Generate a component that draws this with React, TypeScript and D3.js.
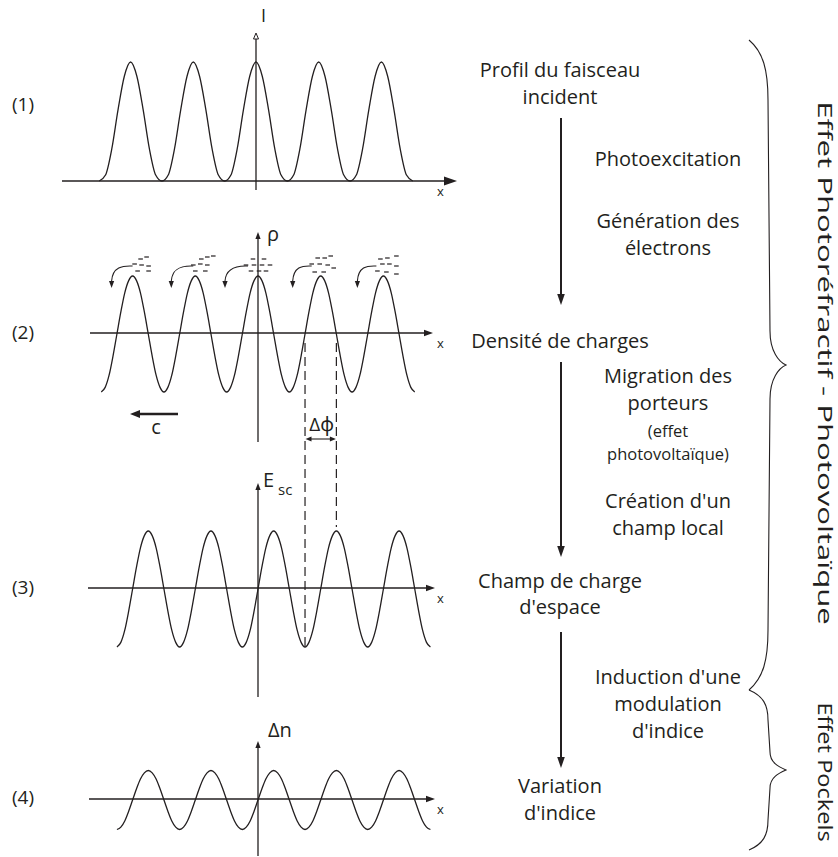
import React from "react";
import * as d3 from "d3";

const WIDTH = 838;
const HEIGHT = 857;

// ---------------- data ----------------
const panelTags = ["(1)", "(2)", "(3)", "(4)"];
const stageLabels = [
  ["Profil du faisceau", "incident"],
  ["Densité de charges"],
  ["Champ de charge", "d'espace"],
  ["Variation", "d'indice"],
];
const processLabels = [
  ["Photoexcitation"],
  ["Génération des", "électrons"],
  ["Migration des", "porteurs"],
  ["(effet", "photovoltaïque)"],
  ["Création d'un", "champ local"],
  ["Induction d'une", "modulation", "d'indice"],
];
const effectLabels = ["Effet Photoréfractif - Photovoltaïque", "Effet Pockels"];

// intensity profile: peaks (in grating periods from the I axis), half-peak profile
const intensityPeaks = [-2, -1, 0, 1, 2];
const intensityProfileOffsets = [0, 0.1, 0.2, 0.3, 0.4, 0.5];
const intensityProfileValues = [1, 0.88, 0.6, 0.27, 0.05, 0];

// sinusoidal curves: extrema positions (periods) and values
const rhoExtremaX = [-2.5, -2, -1.5, -1, -0.5, 0, 0.5, 1, 1.5, 2, 2.5];
const rhoExtremaY = [-1, 1, -1, 1, -1, 1, -1, 1, -1, 1, -1];
const escExtremaX = [-2.25, -1.75, -1.25, -0.75, -0.25, 0.25, 0.75, 1.25, 1.75, 2.25, 2.75];
const escExtremaY = [-1, 1, -1, 1, -1, 1, -1, 1, -1, 1, -1];
const dnExtremaX = [-2.25, -1.75, -1.25, -0.75, -0.25, 0.25, 0.75, 1.25, 1.75, 2.25, 2.75];
const dnExtremaY = [-0.5, 0.5, -0.5, 0.5, -0.5, 0.5, -0.5, 0.5, -0.5, 0.5, -0.5];
// quarter-wave shape (offset from extremum, relative value)
const waveShapeOffsets = [0, 0.0625, 0.125, 0.1875, 0.25];
const waveShapeValues = [1, 0.92, 0.71, 0.38, 0];

// phase shift Δφ bounded by two ρ zero crossings (periods)
const deltaPhiBounds = [0.75, 1.25];

// electrons above each ρ maximum
const electronPeaks = [-2, -1, 0, 1, 2];
const electronArrowStartDx = [0, -2, -10, -9, -7];
const electronArrowTipDx = [-21, -24, -33, -28, -26];
const electronDashes = [
  [[8, 259], [14, 257], [2, 264], [9, 265], [16, 266], [5, 271], [16, 271]],
  [[6, 259], [12, 257], [18, 256], [-2, 265], [5, 264], [12, 265], [0, 271], [10, 271]],
  [[-5, 259], [6, 259], [-12, 265], [-4, 265], [4, 265], [12, 265], [-7, 271], [1, 271], [8, 271]],
  [[-3, 258], [4, 258], [10, 256], [-9, 264], [-1, 264], [7, 265], [13, 268], [-6, 272], [3, 272]],
  [[-3, 259], [4, 258], [13, 256], [-1, 264], [6, 264], [13, 266], [-6, 271], [3, 272], [13, 274]],
];

// ---------------- layout ----------------
const PERIOD = 62.7;
const FONT = "'Open Sans', 'Noto Sans', sans-serif";
const INK = "#231f20";

type Pt = [number, number];

function buildWave(ex: number[], ey: number[]): Pt[] {
  const pts: Pt[] = [];
  const n = waveShapeOffsets.length;
  for (let i = 0; i < ex.length; i++) {
    pts.push([ex[i], ey[i]]);
    if (i < ex.length - 1) {
      for (let j = 1; j < n; j++) pts.push([ex[i] + waveShapeOffsets[j], ey[i] * waveShapeValues[j]]);
      for (let j = n - 2; j >= 1; j--) pts.push([ex[i + 1] - waveShapeOffsets[j], ey[i + 1] * waveShapeValues[j]]);
    }
  }
  return pts;
}

function buildIntensity(): Pt[] {
  const map = new Map<string, Pt>();
  intensityPeaks.forEach((p) =>
    intensityProfileOffsets.forEach((o, j) => {
      const a: Pt = [p - o, intensityProfileValues[j]];
      const b: Pt = [p + o, intensityProfileValues[j]];
      map.set(a[0].toFixed(4), a);
      map.set(b[0].toFixed(4), b);
    })
  );
  return Array.from(map.values()).sort((a, b) => a[0] - b[0]);
}

function tri(x: number, y: number, dir: "up" | "down" | "left" | "right", len: number, half: number) {
  let pts: number[][];
  if (dir === "right") pts = [[x, y], [x - len, y - half], [x - len, y + half]];
  else if (dir === "left") pts = [[x, y], [x + len, y - half], [x + len, y + half]];
  else if (dir === "up") pts = [[x, y], [x - half, y + len], [x + half, y + len]];
  else pts = [[x, y], [x - half, y - len], [x + half, y - len]];
  return pts.map((p) => p.join(",")).join(" ");
}

// curly brace opening to the left, tip pointing right
function bracePath(x0: number, xa: number, xt: number, y0: number, yTip: number, y1: number, c: number, d: number) {
  const p = d3.path();
  p.moveTo(x0, y0);
  p.bezierCurveTo(x0 + 0.75 * (xa - x0), y0 + 0.2 * c, xa, y0 + 0.5 * c, xa, y0 + c);
  p.lineTo(xa + 2, yTip - d);
  p.bezierCurveTo(xa + 2, yTip - 0.4 * d, xt - 7, yTip - 3, xt, yTip);
  p.bezierCurveTo(xt - 7, yTip + 3, xa + 2, yTip + 0.4 * d, xa + 2, yTip + d);
  p.lineTo(xa, y1 - c);
  p.bezierCurveTo(xa, y1 - 0.5 * c, x0 + 0.75 * (xa - x0), y1 - 0.2 * c, x0, y1);
  return p.toString();
}

export default function App() {
  const panels = [
    { axisX: 256, axisY: 181, h0: 62, h1: 457, vTop: 33, vBot: 190, yDom: [0, 1], yRng: [181, 62], big: true },
    { axisX: 258, axisY: 333, h0: 90, h1: 433, vTop: 232, vBot: 442, yDom: [-1, 1], yRng: [392, 276], big: false },
    { axisX: 258, axisY: 588, h0: 88, h1: 435, vTop: 483, vBot: 697, yDom: [-1, 1], yRng: [647, 531], big: false },
    { axisX: 258, axisY: 799, h0: 89, h1: 435, vTop: 741, vBot: 856, yDom: [-1, 1], yRng: [859, 741], big: false },
  ];
  const curves: Pt[][] = [
    buildIntensity(),
    buildWave(rhoExtremaX, rhoExtremaY),
    buildWave(escExtremaX, escExtremaY),
    buildWave(dnExtremaX, dnExtremaY),
  ];
  const tagY = [111, 339, 594, 804];

  const scales = panels.map((pn) => ({
    x: d3.scaleLinear().domain([0, 1]).range([pn.axisX, pn.axisX + PERIOD]),
    y: d3.scaleLinear().domain(pn.yDom).range(pn.yRng),
  }));

  const sw = 1.3;

  const rhoS = scales[1];
  const escS = scales[2];

  const stageX = 560;
  const stageBase = [[77, 104], [348], [588, 614], [793, 820]];
  const procX = 668;
  const procBase = [[166], [228, 255], [383, 410], [437, 460], [508, 535], [684, 711, 738]];
  const procSize = [20, 20, 20, 16.5, 20, 20];
  const mainArrows = [[118, 305], [362, 557], [632, 768]];
  const arrowX = 561;

  return (
    <svg
      width={WIDTH}
      height={HEIGHT}
      viewBox={`0 0 ${WIDTH} ${HEIGHT}`}
      style={{ position: "absolute", left: 0, top: 0, background: "#fff" }}
      fontFamily={FONT}
    >
      <rect width={WIDTH} height={HEIGHT} fill="#fff" />
      {panels.map((pn, i) => {
        const s = scales[i];
        const line = d3
          .line<Pt>()
          .x((d) => s.x(d[0]))
          .y((d) => s.y(d[1]))
          .curve(d3.curveMonotoneX);
        const hl = pn.big ? 13 : 9;
        const hh = pn.big ? 4.5 : 3.2;
        return (
          <g key={i}>
            <line x1={pn.h0} x2={pn.h1 - hl + 1} y1={pn.axisY} y2={pn.axisY} stroke={INK} strokeWidth={sw} />
            <polygon points={tri(pn.h1, pn.axisY, "right", hl, hh)} fill={INK} />
            <line x1={pn.axisX} x2={pn.axisX} y1={pn.vBot} y2={pn.vTop + 5} stroke={INK} strokeWidth={sw} />
            {pn.big ? (
              <polygon points={tri(pn.axisX, pn.vTop, "up", 6, 2.5)} fill="#fff" stroke={INK} strokeWidth={1} />
            ) : (
              <polygon points={tri(pn.axisX, pn.vTop, "up", 7, 2.6)} fill={INK} />
            )}
            <path d={line(curves[i]) || ""} fill="none" stroke={INK} strokeWidth={sw} />
            <text x={437} y={pn.axisY + 15} fontSize={13} fill={INK}>x</text>
            <text x={12} y={tagY[i]} fontSize={19} fill={INK}>{panelTags[i]}</text>
          </g>
        );
      })}

      {/* axis names */}
      <text x={261} y={22} fontSize={18} fill={INK}>I</text>
      <text x={267} y={241} fontSize={20} fill={INK}>ρ</text>
      <text x={263} y={487} fontSize={20} fill={INK}>E</text>
      <text x={278} y={495} fontSize={15} fill={INK}>sc</text>
      <text x={268} y={737} fontSize={20} fill={INK}>Δn</text>

      {/* electrons */}
      {electronPeaks.map((p, i) => {
        const px = rhoS.x(p);
        const sx = px + electronArrowStartDx[i];
        const tx = px + electronArrowTipDx[i];
        return (
          <g key={i}>
            {electronDashes[i].map(([dx, y], j) => (
              <line key={j} x1={px + dx - 2.3} x2={px + dx + 2.3} y1={y} y2={y} stroke={INK} strokeWidth={1.2} />
            ))}
            <path
              d={`M${sx},266 C${sx - 10},265.5 ${tx + 1},267 ${tx},281`}
              fill="none"
              stroke={INK}
              strokeWidth={1.1}
            />
            <polygon points={tri(tx, 288, "down", 7, 2.6)} fill={INK} />
          </g>
        );
      })}

      {/* drift arrow c */}
      <line x1={178} x2={138} y1={414} y2={414} stroke={INK} strokeWidth={2.4} />
      <polygon points={tri(130, 414, "left", 10, 4)} fill={INK} />
      <text x={156} y={434} fontSize={20} textAnchor="middle" fill={INK}>c</text>

      {/* phase-shift dashed lines */}
      <line
        x1={rhoS.x(deltaPhiBounds[0])}
        x2={rhoS.x(deltaPhiBounds[0])}
        y1={343}
        y2={escS.y(-1)}
        stroke={INK}
        strokeWidth={1.2}
        strokeDasharray="9,5"
      />
      <line
        x1={rhoS.x(deltaPhiBounds[1])}
        x2={rhoS.x(deltaPhiBounds[1])}
        y1={343}
        y2={escS.y(1) - 4}
        stroke={INK}
        strokeWidth={1.2}
        strokeDasharray="9,5"
      />
      <line
        x1={rhoS.x(deltaPhiBounds[0]) + 5}
        x2={rhoS.x(deltaPhiBounds[1]) - 5}
        y1={439}
        y2={439}
        stroke={INK}
        strokeWidth={1.1}
      />
      <polygon points={tri(rhoS.x(deltaPhiBounds[0]) + 0.5, 439, "left", 6, 2.6)} fill={INK} />
      <polygon points={tri(rhoS.x(deltaPhiBounds[1]) - 0.5, 439, "right", 6, 2.6)} fill={INK} />
      <text x={(rhoS.x(deltaPhiBounds[0]) + rhoS.x(deltaPhiBounds[1])) / 2 + 1} y={431} fontSize={19} textAnchor="middle" fill={INK}>
        Δϕ
      </text>

      {/* stage labels */}
      {stageLabels.map((lines, i) =>
        lines.map((t, j) => (
          <text key={`s${i}-${j}`} x={stageX} y={stageBase[i][j]} fontSize={20} textAnchor="middle" fill={INK}>
            {t}
          </text>
        ))
      )}
      {processLabels.map((lines, i) =>
        lines.map((t, j) => (
          <text key={`p${i}-${j}`} x={procX} y={procBase[i][j]} fontSize={procSize[i]} textAnchor="middle" fill={INK}>
            {t}
          </text>
        ))
      )}
      {mainArrows.map(([a, b], i) => (
        <g key={i}>
          <line x1={arrowX} x2={arrowX} y1={a} y2={b - 9} stroke={INK} strokeWidth={2} />
          <polygon points={tri(arrowX, b, "down", 11, 3.8)} fill={INK} />
        </g>
      ))}

      {/* braces */}
      <path d={bracePath(749, 768, 786, 40, 365, 690, 60, 34)} fill="none" stroke={INK} strokeWidth={1.1} />
      <path d={bracePath(749, 768, 786, 690, 770, 850, 30, 18)} fill="none" stroke={INK} strokeWidth={1.1} />
      <text transform="translate(818,363) rotate(90) scale(1.56,1)" fontSize={20} textAnchor="middle" fill={INK}>
        {effectLabels[0]}
      </text>
      <text transform="translate(818,772) rotate(90) scale(1.18,1)" fontSize={20} textAnchor="middle" fill={INK}>
        {effectLabels[1]}
      </text>
    </svg>
  );
}
